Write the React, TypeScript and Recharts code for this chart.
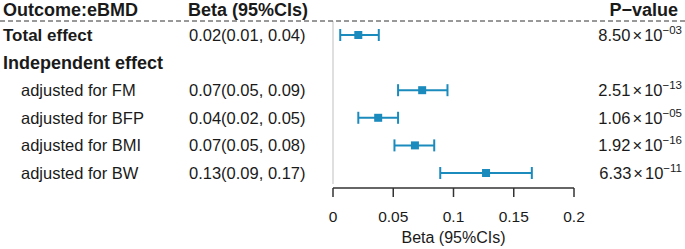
import React from "react"
import {
  ComposedChart,
  Scatter,
  ErrorBar,
  XAxis,
  YAxis,
  ReferenceLine,
} from "recharts"

const rowLabels = [
  "Total effect",
  "Independent effect",
  "adjusted for FM",
  "adjusted for BFP",
  "adjusted for BMI",
  "adjusted for BW",
]
const boldRows = [true, true, false, false, false, false]
const betaText = [
  "0.02(0.01, 0.04)",
  "",
  "0.07(0.05, 0.09)",
  "0.04(0.02, 0.05)",
  "0.07(0.05, 0.08)",
  "0.13(0.09, 0.17)",
]
const estimate = [0.021, null, 0.074, 0.0375, 0.068, 0.127]
const lower = [0.006, null, 0.054, 0.021, 0.051, 0.089]
const upper = [0.038, null, 0.095, 0.054, 0.084, 0.165]
const pMantissa = ["8.50", "", "2.51", "1.06", "1.92", "6.33"]
const pExponent = ["−03", "", "−13", "−05", "−16", "−11"]
const xTicks = [0, 0.05, 0.1, 0.15, 0.2]

const FONT = '"Liberation Sans", Arial, sans-serif'
const INK = "#1a1a1a"
const BLUE = "#1b8bbd"
const Y_MIN = -0.507
const Y_MAX = 5.544
const rowTicks = rowLabels.map((_, i) => i)

const points = estimate
  .map((est, i) =>
    est == null
      ? null
      : { x: est, y: i, err: [est - (lower[i] as number), (upper[i] as number) - est] }
  )
  .filter(Boolean)

function LeftTick({ y, payload }: any) {
  const i = payload.value as number
  const bold = boldRows[i]
  return (
    <g>
      <text
        x={bold ? 3 : 21}
        y={y}
        dy="0.36em"
        fontFamily={FONT}
        fontSize={bold ? (i === 0 ? 17 : 18) : 16.5}
        fontWeight={bold ? 700 : 400}
        fill={INK}
      >
        {rowLabels[i]}
      </text>
      {betaText[i] && (
        <text x={189} y={y} dy="0.36em" fontFamily={FONT} fontSize={16.5} fill={INK}>
          {betaText[i]}
        </text>
      )}
    </g>
  )
}

function RightTick({ y, payload }: any) {
  const i = payload.value as number
  if (!pMantissa[i]) return <g />
  return (
    <text x={682} y={y} dy="0.36em" textAnchor="end" fontFamily={FONT} fontSize={16.5} fill={INK}>
      <tspan>{pMantissa[i]}</tspan>
      <tspan dx={2}>×</tspan>
      <tspan dx={2}>10</tspan>
      <tspan dy={-7} fontSize={11.5}>
        {pExponent[i]}
      </tspan>
    </text>
  )
}

export default function App() {
  return (
    <div style={{ position: "fixed", left: 0, top: 0, width: 685, height: 249, background: "#fff" }}>
      <ComposedChart
        width={685}
        height={249}
        data={points as any[]}
        margin={{ top: 21, right: 0, bottom: 0, left: 0 }}
      >
        <XAxis
          type="number"
          dataKey="x"
          domain={[0, 0.2]}
          ticks={xTicks}
          allowDataOverflow
          height={61}
          tickSize={9}
          tickMargin={14}
          interval={0}
          tickFormatter={(v) => String(v)}
          stroke="#333"
          strokeWidth={1.5}
          tick={{ fill: INK, fontSize: 15.5, fontFamily: FONT }}
          label={{
            value: "Beta (95%CIs)",
            position: "insideBottom",
            offset: 6,
            fill: INK,
            fontSize: 16,
            fontFamily: FONT,
          }}
        />
        <YAxis
          yAxisId="left"
          type="number"
          dataKey="y"
          domain={[Y_MIN, Y_MAX]}
          allowDataOverflow
          reversed
          ticks={rowTicks}
          interval={0}
          width={333}
          axisLine={false}
          tickLine={false}
          tick={<LeftTick />}
        />
        <YAxis
          yAxisId="right"
          orientation="right"
          type="number"
          domain={[Y_MIN, Y_MAX]}
          allowDataOverflow
          reversed
          ticks={rowTicks}
          interval={0}
          width={111}
          axisLine={false}
          tickLine={false}
          tick={<RightTick />}
        />
        <ReferenceLine
          yAxisId="left"
          segment={[
            { x: 0, y: Y_MIN },
            { x: 0, y: 5.4 },
          ]}
          stroke="#d4d4d4"
          strokeWidth={1.5}
          ifOverflow="visible"
        />
        <Scatter
          yAxisId="left"
          data={points as any[]}
          fill={BLUE}
          shape="square"
          isAnimationActive={false}
        >
          <ErrorBar
            dataKey="err"
            direction="x"
            width={6}
            stroke={BLUE}
            strokeWidth={2}
            isAnimationActive={false}
          />
        </Scatter>
      </ComposedChart>
      <svg
        width={685}
        height={249}
        style={{ position: "absolute", left: 0, top: 0, pointerEvents: "none" }}
      >
        <text x={3} y={16} fontFamily={FONT} fontSize={18} fontWeight={700} fill={INK}>
          Outcome:eBMD
        </text>
        <text x={188} y={16} fontFamily={FONT} fontSize={18} fontWeight={700} fill={INK}>
          Beta (95%CIs)
        </text>
        <text x={678} y={16} textAnchor="end" fontFamily={FONT} fontSize={18} fontWeight={700} fill={INK}>
          P−value
        </text>
        <line x1={0} x2={685} y1={21} y2={21} stroke="#333" strokeWidth={1} strokeDasharray="5 3" />
      </svg>
    </div>
  )
}
